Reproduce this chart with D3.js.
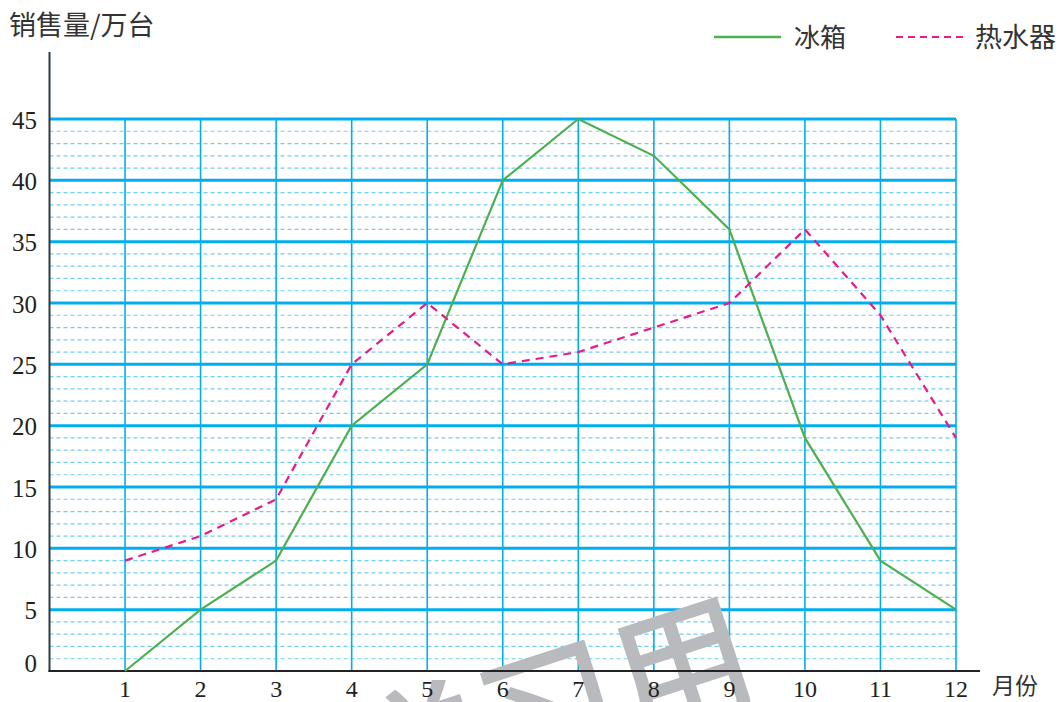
<!DOCTYPE html>
<html><head><meta charset="utf-8">
<script src="https://cdn.jsdelivr.net/npm/d3@7"></script>
<style>html,body{margin:0;padding:0;background:#fff;}svg{display:block;}</style>
</head><body>
<svg id="c" width="1060" height="702"></svg>
<script>
const months = [1,2,3,4,5,6,7,8,9,10,11,12];
const fridge = [0,5,9,20,25,40,45,42,36,19,9,5];
const heater = [9,11,14,25,30,25,26,28,30,36,29,19];
const yTicks = [0,5,10,15,20,25,30,35,40,45];
const seriesNames = ["冰箱","热水器"];
const yTitle = "销售量/万台";
const xTitle = "月份";
const watermark = "学习用";

const svg = d3.select("#c");
const x = d3.scaleLinear().domain([0,12]).range([49.5,956]);
const y = d3.scaleLinear().domain([0,45]).range([671,119]);
const serif = "'Liberation Serif','Times New Roman',serif";
const cjk = "'Noto Sans CJK SC',sans-serif";

// minor grid
const minor = d3.range(1,45).filter(v => v % 5 !== 0);
svg.append("g").selectAll("line").data(minor).join("line")
  .attr("x1", x(0)).attr("x2", x(12))
  .attr("y1", d => y(d)).attr("y2", d => y(d))
  .attr("stroke", "#6fcff0").attr("stroke-width", 1.2).attr("stroke-dasharray", "4,3");
// vertical grid
svg.append("g").selectAll("line").data(months).join("line")
  .attr("x1", d => x(d)).attr("x2", d => x(d))
  .attr("y1", y(45)).attr("y2", y(0))
  .attr("stroke", "#00aeef").attr("stroke-width", 1.6);
// major grid
svg.append("g").selectAll("line").data(yTicks.filter(d => d > 0)).join("line")
  .attr("x1", x(0)).attr("x2", x(12))
  .attr("y1", d => y(d)).attr("y2", d => y(d))
  .attr("stroke", "#00aeef").attr("stroke-width", 3);

// watermark
svg.append("text").text(watermark)
  .attr("transform", "translate(565,760) rotate(-18)")
  .attr("text-anchor", "middle")
  .attr("font-family", "'Noto Sans CJK SC',serif").attr("font-weight", 500)
  .attr("font-size", 140).attr("fill", "#b9babd");

// axes
svg.append("line").attr("x1", x(0)).attr("x2", x(0)).attr("y1", 52).attr("y2", y(0)+1)
  .attr("stroke", "#2f3a40").attr("stroke-width", 2);
svg.append("line").attr("x1", x(0)-1).attr("x2", 980).attr("y1", y(0)).attr("y2", y(0))
  .attr("stroke", "#222").attr("stroke-width", 2);

// y labels
svg.append("g").selectAll("text").data(yTicks).join("text")
  .attr("x", 37).attr("y", d => Math.min(y(d) + 1, 663))
  .attr("text-anchor", "end").attr("dominant-baseline", "central")
  .attr("font-family", serif).attr("font-size", 25).attr("fill", "#231f20")
  .text(d => d);
// x labels
svg.append("g").selectAll("text").data(months).join("text")
  .attr("x", d => x(d)).attr("y", 697)
  .attr("text-anchor", "middle")
  .attr("font-family", serif).attr("font-size", 24).attr("fill", "#231f20")
  .text(d => d);

svg.append("text").text(yTitle).attr("x", 9).attr("y", 35)
  .attr("font-family", cjk).attr("font-size", 27).attr("fill", "#333");
svg.append("text").text(xTitle).attr("x", 992).attr("y", 694)
  .attr("font-family", cjk).attr("font-size", 23).attr("fill", "#333");

// lines
const line = d3.line().x((d,i) => x(months[i])).y(d => y(d));
svg.append("path").datum(fridge).attr("d", line)
  .attr("fill", "none").attr("stroke", "#4caf50").attr("stroke-width", 2.2).attr("stroke-linejoin", "miter");
svg.append("path").datum(heater).attr("d", line)
  .attr("fill", "none").attr("stroke", "#e8198b").attr("stroke-width", 2.2).attr("stroke-dasharray", "8,6");

// legend
const leg = svg.append("g");
leg.append("line").attr("x1", 714).attr("x2", 781).attr("y1", 37).attr("y2", 37)
  .attr("stroke", "#4caf50").attr("stroke-width", 2.5);
leg.append("text").text(seriesNames[0]).attr("x", 794).attr("y", 47)
  .attr("font-family", cjk).attr("font-size", 26).attr("fill", "#333");
leg.append("line").attr("x1", 896).attr("x2", 963).attr("y1", 37).attr("y2", 37)
  .attr("stroke", "#e8198b").attr("stroke-width", 2.2).attr("stroke-dasharray", "7,5");
leg.append("text").text(seriesNames[1]).attr("x", 975).attr("y", 47)
  .attr("font-family", cjk).attr("font-size", 27).attr("fill", "#333");
</script>
</body></html>
